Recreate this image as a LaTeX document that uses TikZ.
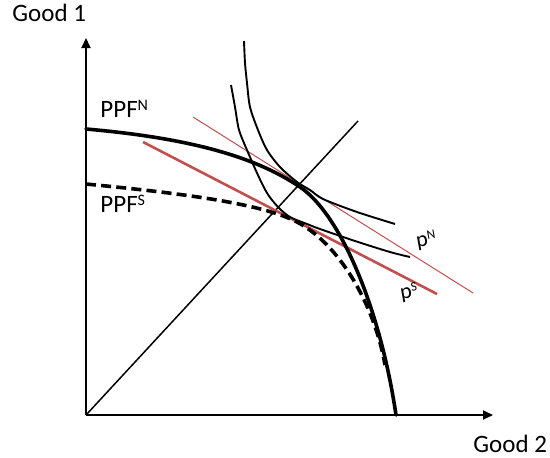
\documentclass[tikz,border=0pt]{standalone}
\usepackage{fontspec}
\setmainfont{Carlito}
\usepackage{tikz}
\usetikzlibrary{arrows.meta}
\definecolor{PriceRed}{RGB}{192, 80, 77}

\begin{document}
\begin{tikzpicture}[x=0.5pt,y=0.5pt,
  axis/.style={line width=1pt, -{Triangle[length=5pt,width=4.5pt]}},
  ppfline/.style={line width=1.8pt, line join=round, line cap=round},
  indiff/.style={line width=0.95pt},
  lbl/.style={font=\fontsize{12.5}{15}\selectfont, inner sep=0pt},
  plbl/.style={font=\fontsize{11}{13}\selectfont, inner sep=0pt, rotate=10}]
  \path[use as bounding box] (0,0) rectangle (550,457);

  % axes and their labels
  \coordinate (O) at (86,42);
  \coordinate (ytop) at (86,419);
  \coordinate (xend) at (493,42);
  \draw[axis] (O) -- (ytop);
  \draw[axis] (O) -- (xend);
  \node[lbl, anchor=base west] (good1) at (12,436) {Good 1};
  \node[lbl, anchor=base west] (good2) at (473,5) {Good 2};

  % ray through the origin
  \coordinate (rayend) at (358,336);
  \draw[line width=0.75pt] (O) -- (rayend);

  % price lines
  \coordinate (pNa) at (193,340);
  \coordinate (pNb) at (473,164);
  \coordinate (pSa) at (143,315);
  \coordinate (pSb) at (437,163);
  \draw[PriceRed, line width=0.5pt] (pNa) -- (pNb);
  \draw[PriceRed, line width=1.3pt] (pSa) -- (pSb);

  % indifference curves
  \draw[indiff] plot[smooth] coordinates {(244,416) (245,394) (247,374) (250,350)
    (258,327) (267,307) (280,290) (297,275) (310,267) (323,258) (357,245) (395,233)};
  \draw[indiff] plot[smooth] coordinates {(231,372) (235,350) (239,327) (247,307)
    (257,284) (267,264) (278,250) (290,240) (307,233) (320,228) (355,216) (390,205) (410,200)};

  % PPF north (solid) and south (dashed)
  \draw[ppfline] (86,328) .. controls (200,318) and (260,297) .. (300,270)
    .. controls (340,243) and (380,150) .. (396,42);
  \draw[ppfline, line cap=butt, dash pattern=on 5pt off 2.6pt]
    (86,273) .. controls (200,262) and (260,252) .. (293,237)
    .. controls (340,215) and (375,150) .. (385,92);

  % labels
  \node[lbl, anchor=base west] (ppfN) at (100,340) {PPF\raisebox{3.4pt}{\fontsize{8}{8}\selectfont N}};
  \node[lbl, anchor=base west] (ppfS) at (100,245) {PPF\raisebox{3.4pt}{\fontsize{8}{8}\selectfont S}};
  \node[plbl, anchor=base west] (pN) at (417,209) {p\raisebox{3.2pt}{\fontsize{6.5}{7}\selectfont N}};
  \node[plbl, anchor=base west] (pS) at (401,157) {p\raisebox{3.2pt}{\fontsize{6.5}{7}\selectfont S}};
\end{tikzpicture}
\end{document}
